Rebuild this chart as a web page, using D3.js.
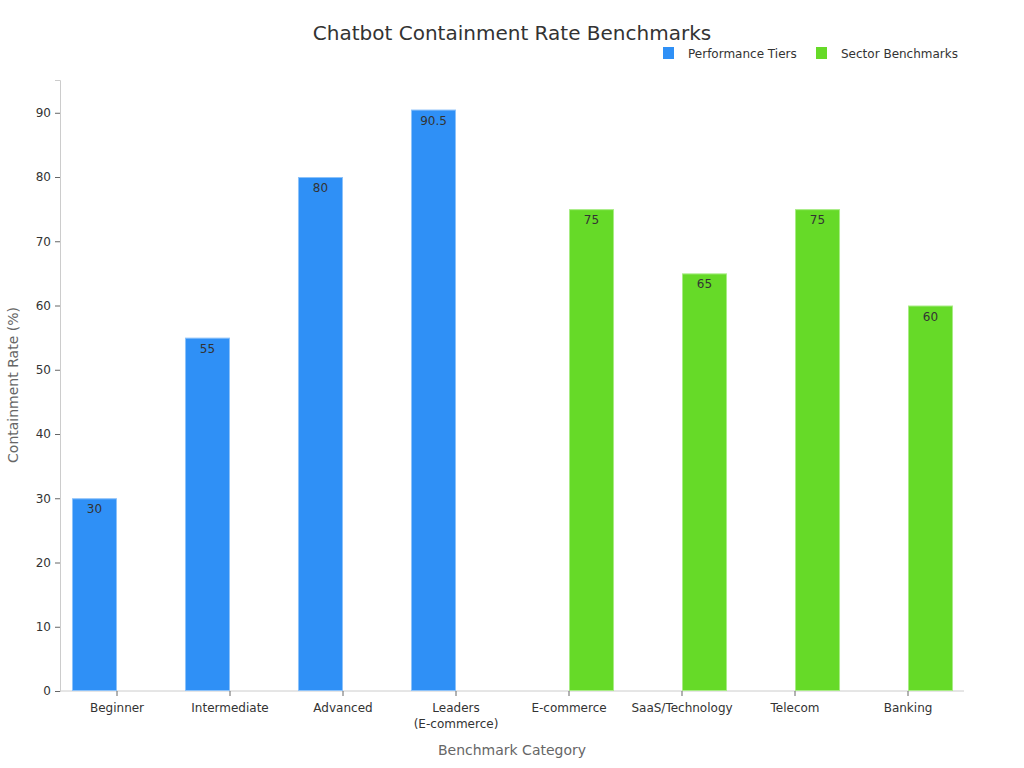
<!DOCTYPE html>
<html>
<head>
<meta charset="utf-8">
<script src="https://cdn.jsdelivr.net/npm/d3@7"></script>
<style>
  body { margin: 0; background: #fff; }
  svg { font-family: "DejaVu Sans", sans-serif; }
</style>
</head>
<body>
<svg id="chart" width="1024" height="768"></svg>
<script>
const categories = ["Beginner", "Intermediate", "Advanced", "Leaders\n(E-commerce)", "E-commerce", "SaaS/Technology", "Telecom", "Banking"];
const seriesNames = ["Performance Tiers", "Sector Benchmarks"];
const performanceTiers = [30, 55, 80, 90.5, null, null, null, null];
const sectorBenchmarks = [null, null, null, null, 75, 65, 75, 60];
const yTicks = [0, 10, 20, 30, 40, 50, 60, 70, 80, 90];
const colors = ["#2f90f6", "#66da28"];
const strokes = ["#8cc2fa", "#a8ec85"];

const svg = d3.select("#chart");
const margin = { left: 60, right: 60, top: 80, bottom: 77 };
const W = 1024, H = 768;

const x = d3.scaleBand().domain(categories).range([margin.left + 0.5, W - margin.right + 0.5]).paddingInner(0).paddingOuter(0);
const xInner = d3.scaleBand().domain(seriesNames).range([0, x.bandwidth()]).paddingInner(0).paddingOuter(0.255);
const y = d3.scaleLinear().domain([0, 95.1]).range([H - margin.bottom, margin.top]);

// Title
svg.append("text").attr("x", 512).attr("y", 40).attr("text-anchor", "middle")
  .attr("font-size", 20).attr("fill", "#333").text("Chatbot Containment Rate Benchmarks");

// Legend
const legend = svg.append("g");
const legX = [663, 816];
seriesNames.forEach((s, i) => {
  legend.append("rect").attr("x", legX[i]).attr("y", 47).attr("width", 11).attr("height", 12).attr("fill", colors[i]);
  legend.append("text").attr("x", legX[i] + 25).attr("y", 58).attr("font-size", 12).attr("fill", "#333").text(s);
});

// Axes
const yAxis = d3.axisLeft(y).tickValues(yTicks).tickSize(5).tickPadding(4);
const gy = svg.append("g").attr("transform", `translate(${margin.left},0)`).call(yAxis);
gy.select(".domain").attr("stroke", "#ccc");
gy.selectAll(".tick line").attr("stroke", "#666");
gy.selectAll(".tick text").attr("font-size", 12).attr("fill", "#333").attr("font-family", "DejaVu Sans");

const xAxis = d3.axisBottom(x).tickSize(5).tickPadding(6).tickFormat(() => "");
const gx = svg.append("g").attr("transform", `translate(0,${H - margin.bottom})`).call(xAxis);
gx.select(".domain").attr("stroke", "#ccc").attr("d", `M${margin.left},0H${W - margin.right}`);
gx.selectAll(".tick line").attr("stroke", "#666");
gx.selectAll(".tick").each(function(d) {
  const lines = d.split("\n");
  const t = d3.select(this).append("text").attr("fill", "#333").attr("font-size", 12)
    .attr("text-anchor", "middle").attr("font-family", "DejaVu Sans");
  lines.forEach((l, i) => t.append("tspan").attr("x", 0).attr("y", 21 + i * 16).text(l));
});

// Bars
const series = [performanceTiers, sectorBenchmarks];
series.forEach((vals, si) => {
  const g = svg.append("g");
  categories.forEach((c, ci) => {
    const v = vals[ci];
    if (v == null) return;
    const bx = x(c) + xInner(seriesNames[si]);
    g.append("rect").attr("x", bx + 0.5).attr("y", y(v) + 0.5)
      .attr("width", xInner.bandwidth() - 1).attr("height", y(0) - y(v) - 1)
      .attr("fill", colors[si]).attr("stroke", strokes[si]).attr("stroke-width", 1);
    g.append("text").attr("x", bx + xInner.bandwidth() / 2).attr("y", y(v) + 15)
      .attr("text-anchor", "middle").attr("font-size", 12).attr("fill", "#333").text(v);
  });
});

// Axis titles
svg.append("text").attr("x", 512).attr("y", 755).attr("text-anchor", "middle")
  .attr("font-size", 14).attr("fill", "#666").text("Benchmark Category");
svg.append("text").attr("transform", `translate(18,${385}) rotate(-90)`).attr("text-anchor", "middle")
  .attr("font-size", 14).attr("fill", "#666").text("Containment Rate (%)");
</script>
</body>
</html>
